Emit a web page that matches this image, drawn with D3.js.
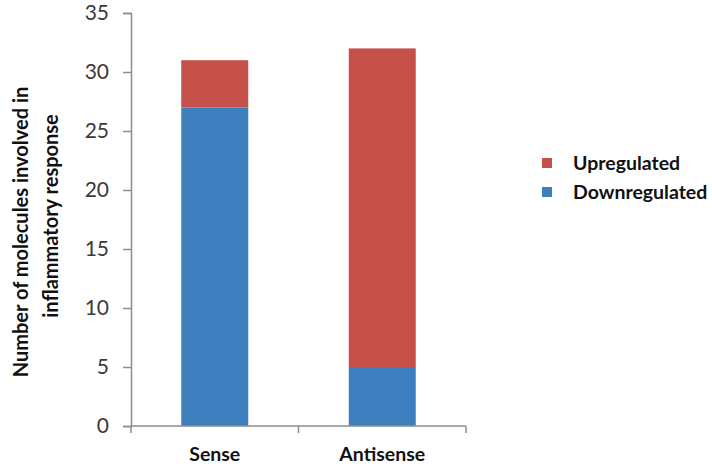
<!DOCTYPE html>
<html>
<head>
<meta charset="utf-8">
<script src="https://cdn.jsdelivr.net/npm/d3@7"></script>
<style>
  html, body { margin: 0; padding: 0; background: #fff; }
  svg { display: block; }
  text { font-family: Lato, "Open Sans", sans-serif; }
</style>
</head>
<body>
<div id="chart"></div>
<script>
/* stacked bars: inflammatory-response molecules, sense vs antisense */
var categories = ['Sense', 'Antisense'];
var downregulated = [27, 5];
var upregulated = [4, 27];
var seriesNames = ['Downregulated', 'Upregulated'];
var yTicks = [0, 5, 10, 15, 20, 25, 30, 35];

(function drawChart() {
  var W = 712, H = 467;
  var colors = { Downregulated: '#3E80BF', Upregulated: '#C6504A' };
  var axisColor = '#8c8c8c';

  var svg = d3.select('#chart').append('svg')
    .attr('width', W).attr('height', H);

  var x = d3.scaleBand()
    .domain(categories)
    .range([131, 466])
    .paddingInner(0.6)
    .paddingOuter(0.3);

  var y = d3.scaleLinear().domain([0, 35]).range([426, 13]);

  /* ── stacked data ── */
  var rows = categories.map(function (c, i) {
    return { cat: c, Downregulated: downregulated[i], Upregulated: upregulated[i] };
  });
  var stacked = d3.stack().keys(seriesNames)(rows);

  svg.append('g').selectAll('g')
    .data(stacked).enter().append('g')
    .attr('fill', function (d) { return colors[d.key]; })
    .selectAll('rect')
    .data(function (d) { return d; }).enter().append('rect')
    .attr('x', function (d) { return x(d.data.cat); })
    .attr('width', x.bandwidth())
    .attr('y', function (d) { return y(d[1]); })
    .attr('height', function (d) { return y(d[0]) - y(d[1]); });

  /* ── y axis ── */
  var yAxis = svg.append('g')
    .attr('transform', 'translate(131,0)')
    .call(d3.axisLeft(y).tickValues(yTicks).tickSize(8).tickPadding(14));
  yAxis.select('.domain').attr('stroke', axisColor).attr('stroke-width', 1.5);
  yAxis.selectAll('.tick line').attr('stroke', axisColor).attr('stroke-width', 1.5);
  yAxis.selectAll('.tick text')
    .attr('fill', '#3a3a3a')
    .style('font-size', '21px')
    .style('font-family', 'Lato, sans-serif');

  /* ── x axis (ticks at category boundaries) ── */
  var x0 = x.range()[0], x1 = x.range()[1];
  svg.append('line')
    .attr('x1', x0).attr('x2', x1)
    .attr('y1', y(0)).attr('y2', y(0))
    .attr('stroke', axisColor).attr('stroke-width', 1.5);
  var bounds = [x0].concat(categories.map(function (c) {
    return x(c) + x.bandwidth() + x.step() * x.paddingInner() / 2;
  }));
  bounds[bounds.length - 1] = x1;
  svg.selectAll('.xtick').data(bounds).enter().append('line')
    .attr('x1', function (d) { return d; }).attr('x2', function (d) { return d; })
    .attr('y1', y(0)).attr('y2', y(0) + 7)
    .attr('stroke', axisColor).attr('stroke-width', 1.5);

  svg.selectAll('.xlab').data(categories).enter().append('text')
    .attr('x', function (c) { return x(c) + x.bandwidth() / 2; })
    .attr('y', 461)
    .attr('text-anchor', 'middle')
    .attr('font-size', 19.5).attr('font-weight', 'bold').attr('fill', '#111')
    .text(function (c) { return c; });

  /* ── y title, two lines ── */
  var titleLines = ['Number of molecules involved in', 'inflammatory response'];
  var titleMid = [232, 216];
  titleLines.forEach(function (t, i) {
    svg.append('text')
      .attr('transform', 'translate(' + (28 + i * 30) + ',' + titleMid[i] + ') rotate(-90)')
      .attr('text-anchor', 'middle')
      .attr('font-size', 20).attr('font-weight', 'bold').attr('fill', '#111')
      .text(t);
  });

  /* ── legend ── */
  var legendItems = ['Upregulated', 'Downregulated'];
  legendItems.forEach(function (k, i) {
    var ly = 163 + i * 29;
    svg.append('rect')
      .attr('x', 542).attr('y', ly - 5)
      .attr('width', 10).attr('height', 10)
      .attr('fill', colors[k]);
    svg.append('text')
      .attr('x', 573).attr('y', ly + 7)
      .attr('font-size', 19.5).attr('font-weight', 'bold').attr('fill', '#111')
      .text(k);
  });
}());
</script>
</body>
</html>
